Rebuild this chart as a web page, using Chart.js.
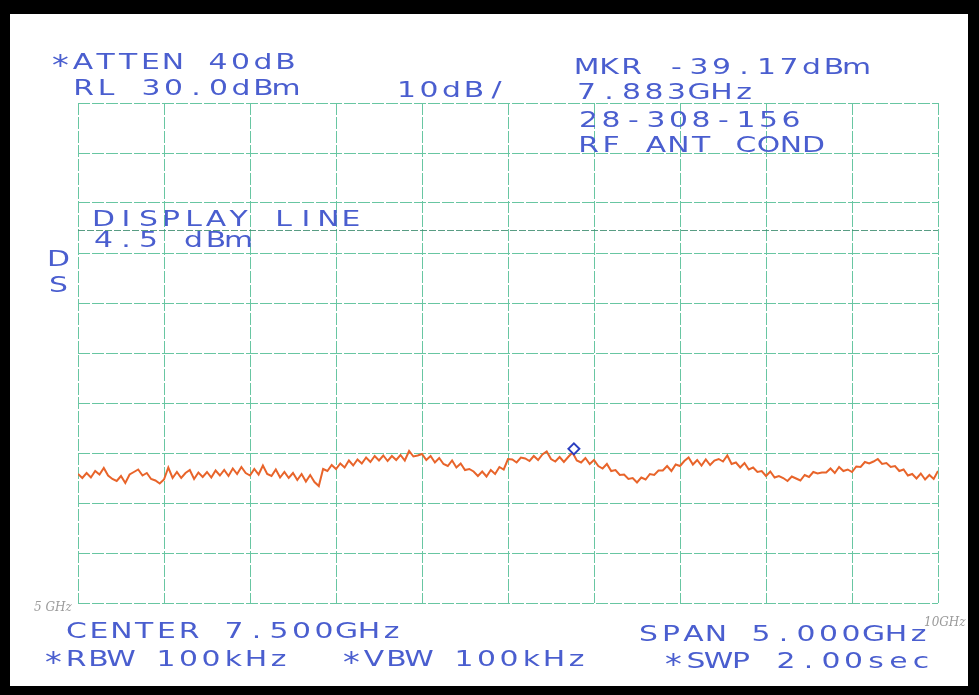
<!DOCTYPE html>
<html>
<head>
<meta charset="utf-8">
<title>Spectrum analyzer plot – RF ANT COND</title>
<script src="https://cdn.jsdelivr.net/npm/chart.js@4/dist/chart.umd.min.js"></script>
<style>
  html, body { margin: 0; padding: 0; background: #000; }
  canvas { display: block; }
</style>
</head>
<body>
<canvas id="plot" width="979" height="695"></canvas>
<script>
// Sweep frequencies (GHz), 5.000 to 10.000 GHz
const sweepGHz = [
  5.000,5.025,5.050,5.075,5.100,5.125,5.150,5.175,5.200,5.225,
  5.250,5.275,5.300,5.325,5.350,5.375,5.400,5.425,5.450,5.475,
  5.500,5.525,5.550,5.575,5.600,5.625,5.650,5.675,5.700,5.725,
  5.750,5.775,5.800,5.825,5.850,5.875,5.900,5.925,5.950,5.975,
  6.000,6.025,6.050,6.075,6.100,6.125,6.150,6.175,6.200,6.225,
  6.250,6.275,6.300,6.325,6.350,6.375,6.400,6.425,6.450,6.475,
  6.500,6.525,6.550,6.575,6.600,6.625,6.650,6.675,6.700,6.725,
  6.750,6.775,6.800,6.825,6.850,6.875,6.900,6.925,6.950,6.975,
  7.000,7.025,7.050,7.075,7.100,7.125,7.150,7.175,7.200,7.225,
  7.250,7.275,7.300,7.325,7.350,7.375,7.400,7.425,7.450,7.475,
  7.500,7.525,7.550,7.575,7.600,7.625,7.650,7.675,7.700,7.725,
  7.750,7.775,7.800,7.825,7.850,7.875,7.900,7.925,7.950,7.975,
  8.000,8.025,8.050,8.075,8.100,8.125,8.150,8.175,8.200,8.225,
  8.250,8.275,8.300,8.325,8.350,8.375,8.400,8.425,8.450,8.475,
  8.500,8.525,8.550,8.575,8.600,8.625,8.650,8.675,8.700,8.725,
  8.750,8.775,8.800,8.825,8.850,8.875,8.900,8.925,8.950,8.975,
  9.000,9.025,9.050,9.075,9.100,9.125,9.150,9.175,9.200,9.225,
  9.250,9.275,9.300,9.325,9.350,9.375,9.400,9.425,9.450,9.475,
  9.500,9.525,9.550,9.575,9.600,9.625,9.650,9.675,9.700,9.725,
  9.750,9.775,9.800,9.825,9.850,9.875,9.900,9.925,9.950,9.975,
  10.000
];

// Measured trace level (dBm) at each sweep frequency
const traceDBm = [
  -44.2,-45.0,-44.0,-44.9,-43.6,-44.3,-43.0,-44.5,-45.2,-45.6,
  -44.6,-46.0,-44.3,-43.8,-43.3,-44.5,-44.0,-45.2,-45.5,-46.1,
  -45.3,-42.9,-45.0,-43.8,-45.0,-44.0,-43.4,-45.2,-43.9,-44.8,
  -43.8,-44.9,-43.5,-44.5,-43.4,-44.6,-43.1,-44.2,-42.8,-44.0,
  -44.5,-43.2,-44.3,-42.5,-44.2,-44.6,-43.3,-44.9,-43.8,-45.0,
  -44.0,-45.4,-44.2,-45.7,-44.4,-45.8,-46.6,-43.2,-43.6,-42.4,
  -43.2,-42.1,-42.9,-41.5,-42.5,-41.3,-42.1,-40.9,-41.8,-40.6,
  -41.5,-40.5,-41.6,-40.6,-41.4,-40.4,-41.5,-39.6,-40.7,-40.5,
  -40.2,-41.4,-40.6,-41.9,-41.0,-42.2,-42.6,-41.5,-42.9,-42.1,
  -43.4,-43.2,-43.7,-44.6,-43.7,-44.7,-43.4,-44.2,-42.8,-43.3,
  -41.2,-41.3,-41.9,-40.9,-41.1,-41.6,-40.6,-41.4,-40.3,-39.7,
  -41.2,-41.7,-40.8,-41.8,-40.8,-39.9,-41.5,-41.9,-41.0,-42.2,
  -41.4,-42.6,-43.1,-42.2,-43.6,-43.4,-44.4,-44.3,-45.2,-45.0,
  -45.9,-44.9,-45.3,-44.2,-44.4,-43.5,-43.5,-42.6,-43.6,-42.3,
  -42.6,-41.6,-40.9,-42.3,-41.4,-42.5,-41.3,-42.4,-41.5,-41.2,
  -41.7,-40.5,-42.2,-41.9,-42.9,-42.0,-43.3,-42.9,-43.8,-43.6,
  -44.6,-43.7,-44.9,-44.6,-45.0,-45.6,-44.7,-45.1,-45.5,-44.4,
  -44.8,-43.8,-44.1,-43.9,-43.9,-43.1,-44.0,-42.8,-43.6,-43.3,
  -43.8,-42.7,-42.8,-41.8,-42.1,-41.7,-41.2,-42.2,-42.0,-42.8,
  -42.6,-43.6,-43.3,-44.5,-44.2,-45.1,-44.1,-45.3,-44.4,-45.2,
  -43.6
];

// Marker readout
const markerGHz = [7.883];
const markerDBm = [-39.17];

// Display line level (dBm)
const displayLineGHz = [5.0, 10.0];
const displayLineDBm = [4.5, 4.5];

// Screen scaling: reference level, dB per division, frequency span
const refLevelDBm = 30;
const dbPerDiv = 10;
const yDivisions = 10;
const startGHz = 5.0;
const stopGHz = 10.0;
const freqDivGHz = 0.5;

// Annotation text
const headerLeft = ['*ATTEN 40dB', 'RL 30.0dBm'];
const scaleText = ['10dB/'];
const headerRight = ['MKR -39.17dBm', '7.883GHz', '28-308-156', 'RF ANT COND'];
const displayLineText = ['DISPLAY LINE', '4.5 dBm'];
const sideText = ['D', 'S'];
const footerText = ['CENTER 7.500GHz', 'SPAN 5.000GHz', '*RBW 100kHz', '*VBW 100kHz', '*SWP 2.00sec'];
const penNotes = ['5 GHz', '10GHz'];

const PEN_BLUE = '#4a5ecf';
const GRID_GREEN = 'rgb(104,198,162)';
const TRACE_ORANGE = '#e8642a';

const tracePoints = sweepGHz.map((f, i) => ({ x: f, y: traceDBm[i] }));
const markerPoints = markerGHz.map((f, i) => ({ x: f, y: markerDBm[i] }));
const displayLinePoints = displayLineGHz.map((f, i) => ({ x: f, y: displayLineDBm[i] }));

// Plotter-style lettering: fixed character pitch, widened glyphs
function penText(ctx, str, x, baseline, opts = {}) {
  const pitch = opts.pitch || 22.5;
  const size = opts.size || 21;
  const stretch = opts.stretch || 1.42;
  ctx.save();
  ctx.fillStyle = opts.color || PEN_BLUE;
  ctx.font = size + 'px "DejaVu Sans", sans-serif';
  ctx.textAlign = 'center';
  ctx.textBaseline = 'alphabetic';
  for (let i = 0; i < str.length; i++) {
    const ch = str[i];
    if (ch === ' ') continue;
    ctx.save();
    const isStar = ch === '*';
    ctx.translate(x + 8.5 + i * pitch, baseline + (isStar ? 6 : 0));
    ctx.scale(isStar ? 1.6 : stretch, isStar ? 1.35 : 1);
    ctx.fillText(ch, 0, 0);
    ctx.restore();
  }
  ctx.restore();
}

const paperPlugin = {
  id: 'paper',
  beforeDraw(chart) {
    const ctx = chart.ctx;
    ctx.save();
    ctx.fillStyle = '#000';
    ctx.fillRect(0, 0, chart.width, chart.height);
    ctx.fillStyle = '#fff';
    ctx.fillRect(10, 14, 958, 672);
    ctx.restore();
  },
  afterDraw(chart) {
    const ctx = chart.ctx;
    penText(ctx, headerLeft[0], 52, 69);
    penText(ctx, headerLeft[1], 75, 95);
    penText(ctx, scaleText[0], 398, 97);
    penText(ctx, headerRight[0], 578, 74);
    penText(ctx, headerRight[1], 578, 99);
    penText(ctx, headerRight[2], 580, 127);
    penText(ctx, headerRight[3], 580, 152);
    penText(ctx, displayLineText[0], 95, 226);
    penText(ctx, displayLineText[1], 95, 247);
    penText(ctx, sideText[0], 50, 266);
    penText(ctx, sideText[1], 50, 292);
    penText(ctx, footerText[0], 68, 638);
    penText(ctx, footerText[1], 640, 641);
    penText(ctx, footerText[2], 45, 666);
    penText(ctx, footerText[3], 343, 666);
    penText(ctx, footerText[4], 665, 668);
    // pencil notes at the sweep ends
    ctx.save();
    ctx.fillStyle = 'rgba(120,120,120,0.75)';
    ctx.font = 'italic 12px "DejaVu Serif", serif';
    ctx.fillText(penNotes[0], 34, 611);
    ctx.fillText(penNotes[1], 924, 626);
    ctx.restore();
  }
};

new Chart(document.getElementById('plot'), {
  type: 'line',
  data: {
    datasets: [
      {
        label: 'Display line',
        data: displayLinePoints,
        borderColor: 'rgba(60,140,110,0.85)',
        borderWidth: 1.2,
        borderDash: [7, 2],
        pointRadius: 0,
        order: 3
      },
      {
        label: 'Trace',
        data: tracePoints,
        borderColor: TRACE_ORANGE,
        borderWidth: 2,
        pointRadius: 0,
        tension: 0,
        order: 2
      },
      {
        label: 'Marker',
        data: markerPoints,
        showLine: false,
        pointStyle: 'rectRot',
        pointRadius: 5.5,
        pointBorderWidth: 2,
        pointBorderColor: '#2b3fc0',
        pointBackgroundColor: '#ffffff',
        order: 1
      }
    ]
  },
  options: {
    responsive: false,
    animation: false,
    devicePixelRatio: 1,
    layout: { padding: { left: 78, right: 41, top: 103, bottom: 92 } },
    plugins: {
      legend: { display: false },
      tooltip: { enabled: false }
    },
    scales: {
      x: {
        type: 'linear',
        min: startGHz,
        max: stopGHz,
        ticks: { display: false, stepSize: freqDivGHz },
        grid: { color: GRID_GREEN, lineWidth: 1, drawTicks: false },
        border: { display: false, dash: [12, 2] },
        afterFit(scale) { scale.height = 0; }
      },
      y: {
        type: 'linear',
        min: refLevelDBm - dbPerDiv * yDivisions,
        max: refLevelDBm,
        ticks: { display: false, stepSize: dbPerDiv },
        grid: { color: GRID_GREEN, lineWidth: 1, drawTicks: false },
        border: { display: false, dash: [12, 2] },
        afterFit(scale) { scale.width = 0; }
      }
    }
  },
  plugins: [paperPlugin]
});
</script>
</body>
</html>
